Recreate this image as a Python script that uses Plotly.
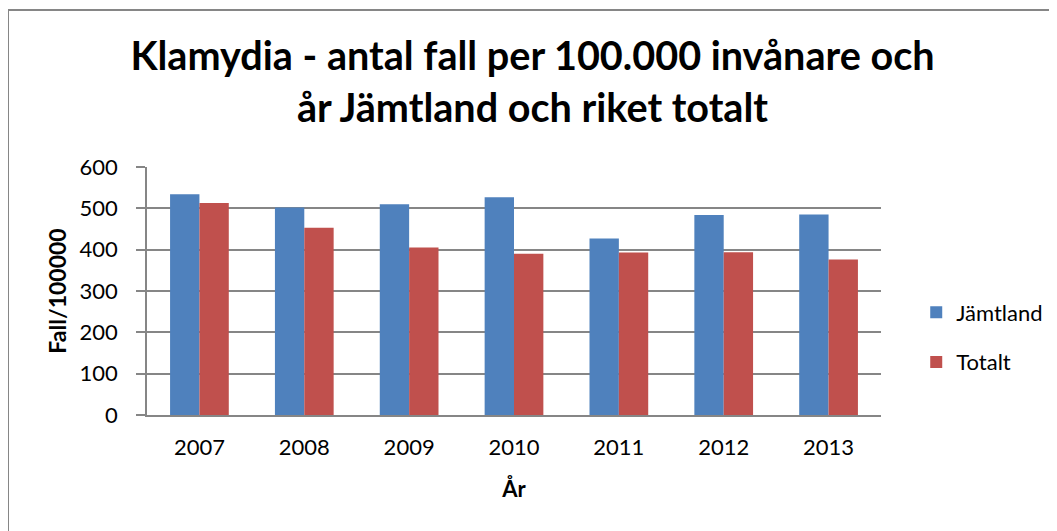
import plotly.graph_objects as go

years = ["2007", "2008", "2009", "2010", "2011", "2012", "2013"]
jamtland = [534, 502, 510, 527, 427, 484, 485]
totalt = [513, 453, 405, 390, 393, 394, 376]
y_ticks = [0, 100, 200, 300, 400, 500, 600]

FONT = "Lato"
GRID = "#868686"

W, H = 1049, 523
L, R, T, B = 139, 176, 159, 116
PW, PH = W - L - R, H - T - B

fig = go.Figure()
fig.add_trace(go.Bar(x=years, y=jamtland, name="Jämtland",
                     marker=dict(color="#4F81BD", line=dict(width=0)),
                     legendgroup="a"))
fig.add_trace(go.Bar(x=years, y=totalt, name="Totalt",
                     marker=dict(color="#C0504D", line=dict(width=0)),
                     legendgroup="b"))

fig.update_layout(
    width=W, height=H,
    margin=dict(l=L, r=R, t=T, b=B, autoexpand=False),
    paper_bgcolor="white", plot_bgcolor="white",
    barmode="group", bargap=0.44, bargroupgap=0,
    font=dict(family=FONT, color="black", size=22),
    title=dict(text="<b>Klamydia - antal fall per 100.000 invånare och<br>år Jämtland och riket totalt</b>",
               x=0.5, xref="container", xanchor="center",
               y=0.881, yref="container", yanchor="middle",
               font=dict(family=FONT, size=39.6, color="black")),
    legend=dict(x=1.048, xanchor="left", y=0.3125, yanchor="middle",
                font=dict(size=22), traceorder="grouped", tracegroupgap=18,
                bgcolor="rgba(0,0,0,0)"),
    showlegend=True,
)
fig.update_yaxes(range=[0, 600], tickvals=y_ticks, ticktext=[str(v) for v in y_ticks],
                 showgrid=True, gridcolor=GRID, gridwidth=1.5,
                 showline=True, linecolor=GRID, linewidth=1.5,
                 ticks="outside", ticklen=9, tickcolor=GRID, tickwidth=1.5,
                 ticklabelstandoff=14, zeroline=False, automargin=False,
                 title=dict(text="<b>Fall/100000</b>", standoff=7, font=dict(size=23)))
fig.update_xaxes(showline=True, linecolor=GRID, linewidth=2, ticks="",
                 ticklabelstandoff=12, automargin=False,
                 title=dict(text="<b>År</b>", standoff=22, font=dict(size=22)))

fig.add_shape(type="rect", xref="paper", yref="paper",
              x0=(0 - L) / PW, x1=1.3, y0=-0.6, y1=(H - B - 2) / PH,
              line=dict(color=GRID, width=2), fillcolor="rgba(0,0,0,0)", layer="below")

fig.write_html("out.html")
